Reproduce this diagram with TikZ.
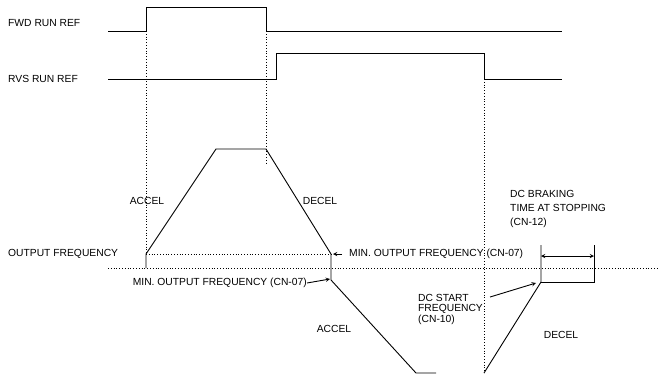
\documentclass[tikz,border=0pt]{standalone}
\usepackage{fontspec}
\setmainfont{Liberation Sans}
\usetikzlibrary{positioning}
\tikzset{
  lbl/.style={font=\fontsize{10.3}{10.5}\selectfont, inner sep=0pt},
  sig/.style={line width=0.9pt},
  guide/.style={dotted, line width=0.8pt},
}
\begin{document}
\begin{tikzpicture}[x=1pt, y=-1pt, >=stealth]
  \useasboundingbox (0,0) rectangle (658,373);
  % 1. run commands
  \node[lbl, anchor=west] (fwd) at (8,23) {FWD RUN REF};
  \node[lbl, anchor=west] (rvs) at (8,79) {RVS RUN REF};
  \draw[sig] (108,31) -- (146,31) -- (146,7) -- (266,7) -- (266,31) -- (562,31);
  \draw[sig] (108,79) -- (276,79) -- (276,53) -- (484,53) -- (484,79) -- (562,79);

  % 2. dotted guides
  \draw[guide] (146,31) -- (146,254);
  \draw[guide] (266,31) -- (266,165);
  \draw[guide] (484,79) -- (484,373);
  \draw[guide] (146,254) -- (331,254);
  \draw[guide] (108,268) -- (658,268);

  % 3. output frequency
  \draw[sig] (146,268) -- (146,254) -- (216,149) -- (266,149) -- (331,254)
    -- (331,280) -- (416,373) -- (436,373);
  \draw[sig] (484,373) -- (541,282) -- (541,245);
  \draw[sig] (541,282) -- (594,282) -- (594,245);
  \draw[<->, sig] (541,256) -- (594,256);

  % 4. labels
  \node[lbl, anchor=west] (outf) at (8,254) {OUTPUT FREQUENCY};
  \node[lbl] (acc1) at (147,201) {ACCEL};
  \node[lbl] (dec1) at (320,201) {DECEL};
  \node[lbl, anchor=west] (minf1) at (349,254) {MIN. OUTPUT FREQUENCY (CN-07)};
  \node[lbl, anchor=east] (minf2) at (307,283) {MIN. OUTPUT FREQUENCY (CN-07)};
  \node[lbl] (acc2) at (334,329) {ACCEL};
  \node[lbl, anchor=north west, align=left] (dcs) at (418,294) {DC START\\FREQUENCY\\(CN-10)};
  \node[lbl] (dec2) at (561,335) {DECEL};
  \node[lbl, anchor=north west, align=left] (dcb) at (510,190)
    {DC BRAKING\\[3.5pt]TIME AT STOPPING\\[3.5pt](CN-12)};

  % 5. pointers
  \coordinate (minf1tip) at (333,254);
  \coordinate (minf2tip) at (330,279);
  \coordinate (dcstip) at (536,283);
  \draw[->, sig] ([xshift=-7pt]minf1.west) -- (minf1tip);
  \draw[->, sig] (minf2.east) -- (minf2tip);
  \draw[->, sig] ([shift={(7,3)}]dcs.north east) -- (dcstip);
\end{tikzpicture}
\end{document}
